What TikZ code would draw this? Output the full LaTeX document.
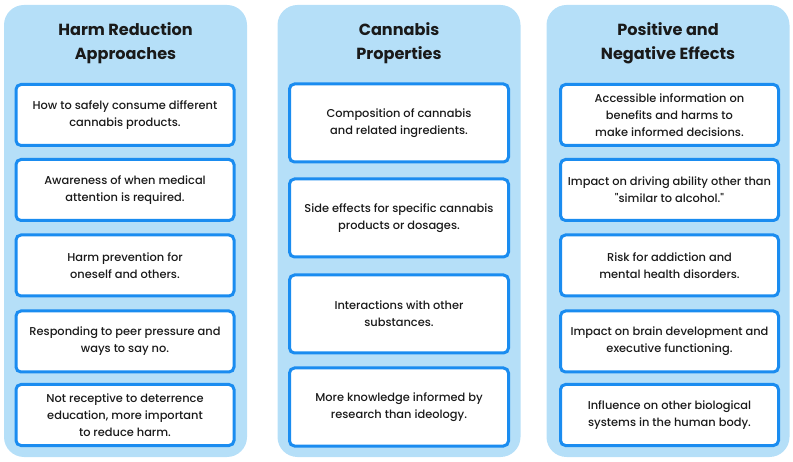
\documentclass[tikz,border=0pt]{standalone}
\usepackage{fontspec}
\setmainfont{Poppins}
\newfontfamily\bodyfont{Poppins Medium}
\definecolor{panelblue}{HTML}{B5DFF8}
\definecolor{borderblue}{HTML}{1A8CF0}
\definecolor{ink}{HTML}{1A1A1A}
\begin{document}
\begin{tikzpicture}[x=1pt,y=-1pt,
  panel/.style={fill=panelblue, draw=none, rounded corners=20pt, minimum width=243pt, minimum height=452pt, inner sep=0pt},
  title/.style={align=center, text=ink, font=\fontsize{16.1}{24}\selectfont\bfseries},
  item/.style={draw=borderblue, line width=3pt, fill=white, rounded corners=5pt, align=center, text=ink,
    font=\bodyfont\fontsize{11.4}{17}\selectfont, inner sep=0pt},
  itemS/.style={item, minimum width=218pt, minimum height=61pt},
  itemL/.style={item, minimum width=219pt, minimum height=78pt}
]
\useasboundingbox (0,0) rectangle (793,462);
\node[panel] (p1) at (125.5,231) {};
\node[panel] (p2) at (399,231) {};
\node[panel] (p3) at (668,231) {};

\node[title] (t1) at (125.5,43) {Harm Reduction\\Approaches};
\node[title] (t2) at (399,43) {Cannabis\\Properties};
\node[title] (t3) at (668,43) {Positive and\\Negative Effects};

\node[itemS] (a1) at (125,115) {How to safely consume different\\cannabis products.};
\node[itemS] (a2) at (125,190) {Awareness of when medical\\attention is required.};
\node[itemS] (a3) at (125,265.5) {Harm prevention for\\oneself and others.};
\node[itemS] (a4) at (125,341.5) {Responding to peer pressure and\\ways to say no.};
\node[itemS] (a5) at (125,415) {Not receptive to deterrence\\education, more important\\to reduce harm.};

\node[itemL] (b1) at (399,123) {Composition of cannabis\\and related ingredients.};
\node[itemL] (b2) at (399,218) {Side effects for specific cannabis\\products or dosages.};
\node[itemL] (b3) at (399,314) {Interactions with other\\substances.};
\node[itemL] (b4) at (399,407) {More knowledge informed by\\research than ideology.};

\node[itemS] (c1) at (669.5,115) {Accessible information on\\benefits and harms to\\make informed decisions.};
\node[itemS] (c2) at (669.5,190) {Impact on driving ability other than\\"similar to alcohol."};
\node[itemS] (c3) at (669.5,265.5) {Risk for addiction and\\mental health disorders.};
\node[itemS] (c4) at (669.5,341.5) {Impact on brain development and\\executive functioning.};
\node[itemS] (c5) at (669.5,415) {Influence on other biological\\systems in the human body.};
\end{tikzpicture}
\end{document}
